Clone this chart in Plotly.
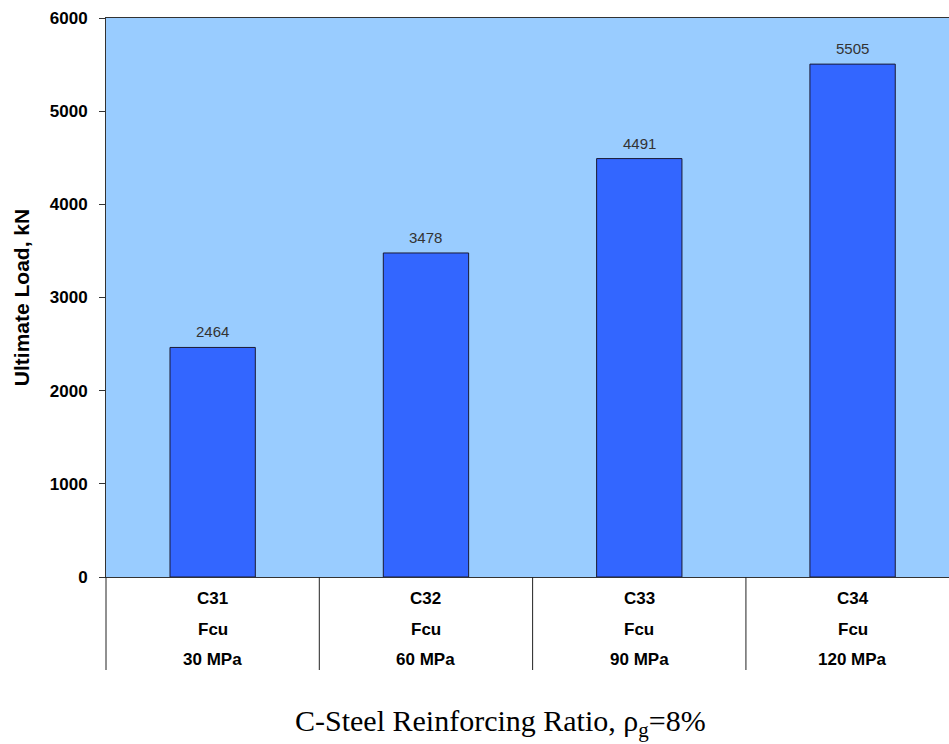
import plotly.graph_objects as go

categories = ["C31", "C32", "C33", "C34"]
fcu_labels = ["30 MPa", "60 MPa", "90 MPa", "120 MPa"]
loads = [2464, 3478, 4491, 5505]

W, H = 949, 744
ML, MR, MT, MB = 106, 0, 18, 167
x0, x1 = -0.5, 3.452

fig = go.Figure()
fig.add_trace(go.Bar(
    x=list(range(len(categories))), y=loads, width=0.4,
    marker=dict(color="#3366FF", line=dict(color="#1a1a33", width=1)),
    hoverinfo="skip",
))

ann = []
for i, v in enumerate(loads):
    ann.append(dict(x=i, y=v, xref="x", yref="y", text=str(v), showarrow=False,
                    yanchor="bottom", yshift=5,
                    font=dict(family="Liberation Sans, Arial", size=15, color="#333333")))
plot_h = H - MT - MB
for i, (c, f) in enumerate(zip(categories, fcu_labels)):
    for txt, py in ((c, 598), ("Fcu", 629), (f, 659)):
        ann.append(dict(x=i, y=-(py - (H - MB)) / plot_h, xref="x", yref="paper",
                        text="<b>%s</b>" % txt, showarrow=False, yanchor="middle",
                        font=dict(family="Liberation Sans, Arial", size=17, color="black")))
ann.append(dict(x=(500 - ML) / (W - ML - MR), y=-(723 - (H - MB)) / plot_h, xref="paper", yref="paper",
                text="C-Steel Reinforcing Ratio, ρ<sub>g</sub>=8%", showarrow=False,
                yanchor="middle",
                font=dict(family="Liberation Serif, Times New Roman", size=30, color="black")))

shapes = []
for i in range(len(categories)):
    b = i - 0.5
    xd = (b - x0) / (x1 - x0)
    shapes.append(dict(type="line", xref="x domain", yref="paper", x0=xd, x1=xd,
                       y0=0, y1=-(670 - (H - MB)) / plot_h,
                       line=dict(color="#222222", width=1)))

fig.update_layout(
    width=W, height=H,
    margin=dict(l=ML, r=MR, t=MT, b=MB),
    paper_bgcolor="white", plot_bgcolor="#99CCFF",
    showlegend=False,
    annotations=ann, shapes=shapes,
    xaxis=dict(range=[x0, x1], showticklabels=False, ticks="", showgrid=False,
               zeroline=False, showline=True, mirror=True, linecolor="#333333", linewidth=1),
    yaxis=dict(range=[0, 6000], dtick=1000, ticks="outside", ticklen=6, tickcolor="#333333",
               showgrid=False, zeroline=False, showline=True, linecolor="#333333", linewidth=1,
               ticklabelstandoff=8,
               tickfont=dict(family="Liberation Sans, Arial", size=17, color="black"),
               tickprefix="<b>", ticksuffix="</b>",
               title=dict(text="<b>Ultimate Load, kN</b>", standoff=14,
                          font=dict(family="Liberation Sans, Arial", size=21, color="black"))),
)
fig.write_html("out.html", config={"displayModeBar": False},
               post_script="document.body.style.margin='0';document.body.style.overflow='hidden';")
